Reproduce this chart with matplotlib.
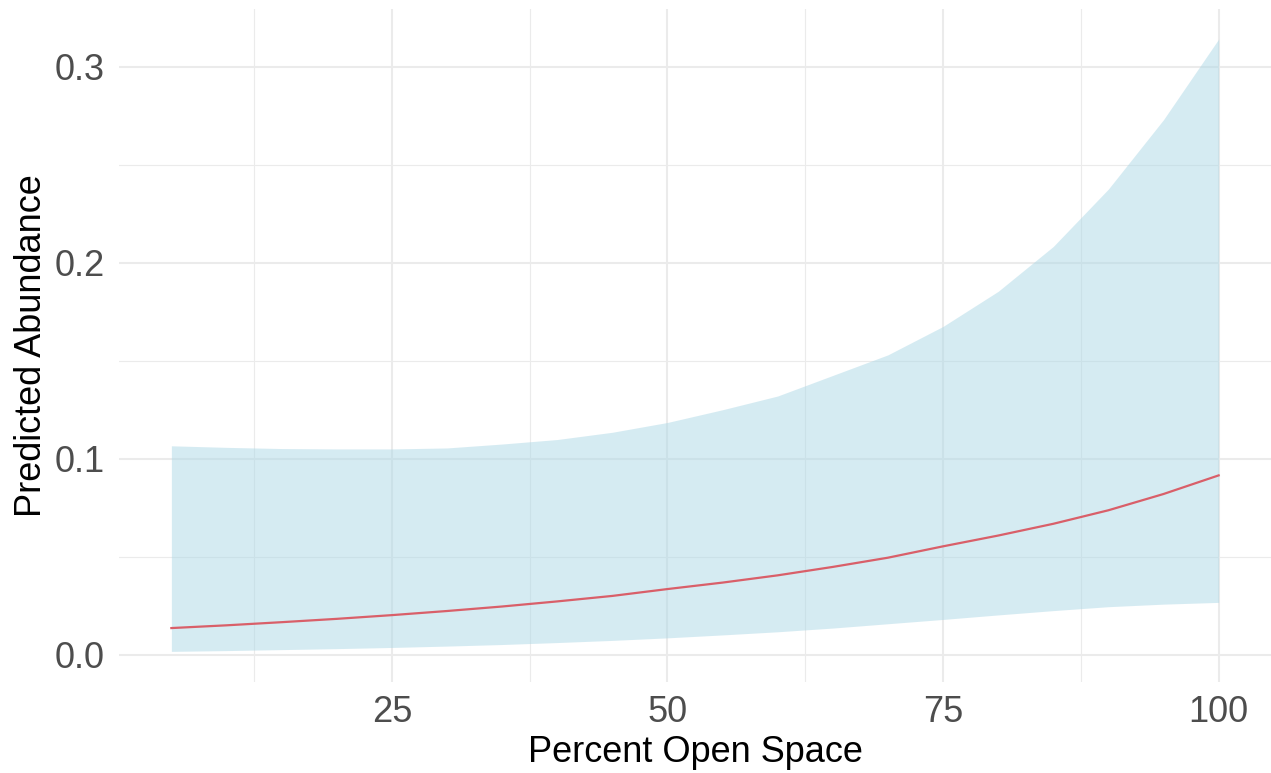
import numpy as np
import matplotlib
matplotlib.use("Agg")
import matplotlib.pyplot as plt
from matplotlib.ticker import MultipleLocator

# values
open_space = [5, 10, 15, 20, 25, 30, 35, 40, 45, 50,
              55, 60, 65, 70, 75, 80, 85, 90, 95, 100]
abundance = [0.0136, 0.0150, 0.0166, 0.0183, 0.0202, 0.0223, 0.0246, 0.0272, 0.0300, 0.0335,
             0.0368, 0.0405, 0.0448, 0.0495, 0.0553, 0.0608, 0.0668, 0.0737, 0.0820, 0.0915]
lower = [0.0017, 0.0021, 0.0026, 0.0031, 0.0037, 0.0044, 0.0052, 0.0062, 0.0073, 0.0086,
         0.0101, 0.0117, 0.0136, 0.0158, 0.0180, 0.0203, 0.0225, 0.0245, 0.0258, 0.0267]
upper = [0.1066, 0.1058, 0.1052, 0.1050, 0.1050, 0.1055, 0.1075, 0.1098, 0.1135, 0.1185,
         0.1250, 0.1320, 0.1425, 0.1530, 0.1675, 0.1854, 0.2083, 0.2376, 0.2730, 0.3141]

x_ticks = [25, 50, 75, 100]
y_ticks = [0.0, 0.1, 0.2, 0.3]
y_tick_labels = ["0.0", "0.1", "0.2", "0.3"]

plt.rcParams['font.family'] = ['Liberation Sans', 'DejaVu Sans']

fig = plt.figure(figsize=(12.71, 7.73), dpi=100)
ax = fig.add_axes([119 / 1271, 91 / 773, 1 - 119 / 1271, (682 - 8.5) / 773])

ax.fill_between(open_space, lower, upper, color="lightblue", alpha=0.5, linewidth=0, zorder=2)
ax.plot(open_space, abundance, color="#D95F69", linewidth=1.6, zorder=3)

# ggplot-like expansion of 5%
xr = max(open_space) - min(open_space)
ax.set_xlim(min(open_space) - 0.05 * xr, max(open_space) + 0.05 * xr)
ymin, ymax = min(lower), max(upper)
yr = ymax - ymin
ax.set_ylim(ymin - 0.05 * yr, ymax + 0.05 * yr)

ax.set_xticks(x_ticks)
ax.set_yticks(y_ticks)
ax.set_yticklabels(y_tick_labels)
ax.xaxis.set_minor_locator(MultipleLocator(12.5))
ax.yaxis.set_minor_locator(MultipleLocator(0.05))

ax.grid(which="major", color="#EBEBEB", linewidth=1.5, zorder=1)
ax.grid(which="minor", color="#EBEBEB", linewidth=0.8, zorder=1)
ax.set_axisbelow(True)
for s in ax.spines.values():
    s.set_visible(False)
ax.tick_params(which="both", length=0, labelsize=26, labelcolor="#4D4D4D")
ax.tick_params(axis="x", pad=9)
ax.tick_params(axis="y", pad=10)

ax.set_xlabel("Percent Open Space", fontsize=26, color="black", labelpad=4)
ax.set_ylabel("Predicted Abundance", fontsize=26, color="black", labelpad=4)

fig.savefig("out.png", dpi=100, facecolor="white")
